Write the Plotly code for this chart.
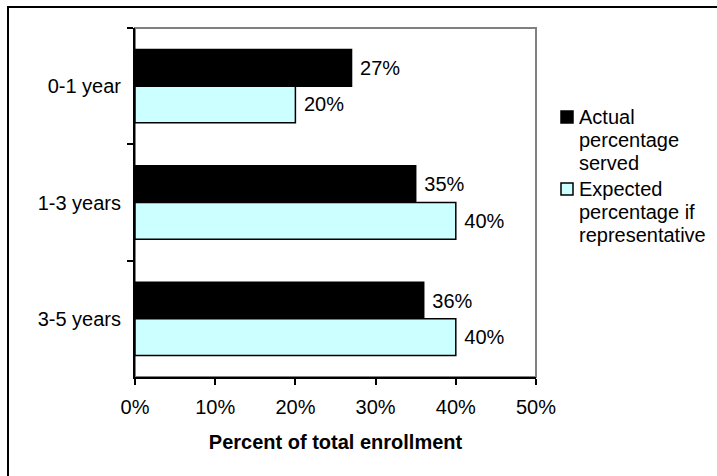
import plotly.graph_objects as go

# Age groups and enrollment shares (fractions of total enrollment)
age_groups = ["0-1 year", "1-3 years", "3-5 years"]
actual_served = [0.27, 0.35, 0.36]
expected_share = [0.20, 0.40, 0.40]
series_lines = [["Actual", "percentage", "served"],
                ["Expected", "percentage if", "representative"]]
series_colors = ["#000000", "#CCFFFF"]
x_ticks = [0, 0.1, 0.2, 0.3, 0.4, 0.5]

W, H = 717, 476
L, R, T, B = 135, 181, 28, 99
plot_w = W - L - R
plot_h = H - T - B

FONT = "Arial, Liberation Sans, sans-serif"


def px_x(px):
    return (px - L) / plot_w


def px_y(py):
    return (T + plot_h - py) / plot_h


fig = go.Figure()
for lines, vals, color in zip(series_lines, [actual_served, expected_share], series_colors):
    fig.add_trace(go.Bar(
        y=age_groups, x=vals, orientation="h", name=" ".join(lines),
        marker=dict(color=color, line=dict(color="#000000", width=1.5)),
        texttemplate="\u00a0%{x:.0%}", textposition="outside", cliponaxis=False,
        textfont=dict(family=FONT, size=20, color="#000000"),
        showlegend=False,
    ))

# gray frame on the plot area (left and bottom are covered by black axis lines)
fig.add_shape(type="rect", xref="paper", yref="paper", x0=0, x1=1, y0=0, y1=1,
              line=dict(color="#808080", width=2), layer="below")
# outer chart border
fig.add_shape(type="rect", xref="paper", yref="paper",
              x0=px_x(8), x1=px_x(W + 20), y0=px_y(H + 20), y1=px_y(7),
              line=dict(color="#000000", width=2), layer="below")

# legend: a swatch per series and its label written line by line
line_step = 23
item_tops = [117, 189]
for lines, color, y0 in zip(series_lines, series_colors, item_tops):
    fig.add_shape(type="rect", xref="paper", yref="paper",
                  x0=px_x(561), x1=px_x(573), y0=px_y(y0 + 6), y1=px_y(y0 - 6),
                  line=dict(color="#000000", width=1.5), fillcolor=color)
    for i, txt in enumerate(lines):
        fig.add_annotation(xref="paper", yref="paper", x=px_x(577), y=px_y(y0 + i * line_step),
                           text=txt, showarrow=False, xanchor="left", yanchor="middle",
                           font=dict(family=FONT, size=20, color="#000000"))

fig.update_layout(
    width=W, height=H,
    margin=dict(l=L, r=R, t=T, b=B, pad=0, autoexpand=False),
    paper_bgcolor="#FFFFFF", plot_bgcolor="#FFFFFF",
    barmode="group", bargap=0.37, bargroupgap=0,
    font=dict(family=FONT, size=20, color="#000000"),
    showlegend=False,
    xaxis=dict(
        range=[0, 0.5], tickvals=x_ticks, tickformat=".0%",
        showgrid=False, zeroline=False,
        showline=True, linecolor="#000000", linewidth=2,
        ticks="outside", ticklen=6, tickwidth=2, tickcolor="#000000",
        ticklabelstandoff=5,
        tickfont=dict(family=FONT, size=20, color="#000000"),
        title=dict(text="<b>Percent of total enrollment</b>", standoff=18,
                   font=dict(family=FONT, size=20, color="#000000")),
    ),
    yaxis=dict(
        autorange="reversed", showgrid=False, zeroline=False,
        showline=True, linecolor="#000000", linewidth=2,
        ticks="outside", ticklen=6, tickwidth=2, tickcolor="#000000",
        tickson="boundaries", ticklabelstandoff=8,
        tickfont=dict(family=FONT, size=20, color="#000000"),
    ),
)

fig.write_html("out.html")
